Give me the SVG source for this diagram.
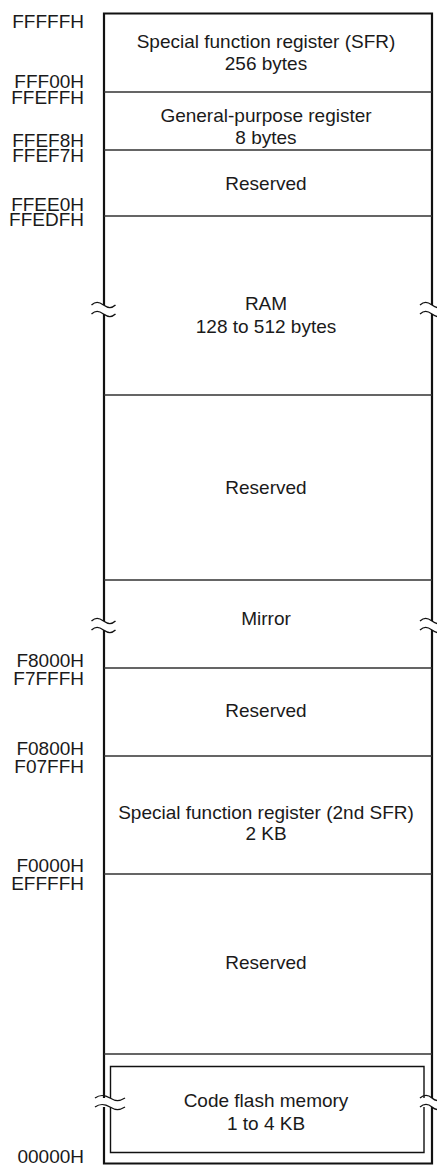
<svg xmlns="http://www.w3.org/2000/svg" width="437" height="1166" viewBox="0 0 437 1166">
<style>
text{font-family:"Liberation Sans",Arial,sans-serif;font-size:19px;fill:#1a1a1a}
.c{text-anchor:middle}
.a{text-anchor:end}
.b{fill:none;stroke:#111;stroke-width:2.2}
.h{fill:none;stroke:#333;stroke-width:1.4}
.w{fill:none;stroke:#111;stroke-width:1.4}
.k{fill:none;stroke:#111;stroke-width:1.4}
</style>
<defs>
<path id="brk" d="M -12,0 c 4,-3.5 7,-3.5 12,0 s 8,3.5 12,0" class="k"/>
</defs>
<rect width="437" height="1166" fill="#fff"/>
<g id="frame">
<path class="b" d="M104,305 V13.5 H432 V305 M104,314 V621 M432,314 V621 M104,630 V1098 M432,630 V1098 M104,1107 V1163.5 H432 V1107"/>
<path class="w" d="M110.5,1098 V1066.5 H424 V1098 M110.5,1107 V1152.5 H424 V1107"/>
<use href="#brk" x="103.5" y="305"/><use href="#brk" x="103.5" y="314"/>
<use href="#brk" x="432" y="305"/><use href="#brk" x="432" y="314"/>
<use href="#brk" x="103.5" y="621"/><use href="#brk" x="103.5" y="630"/>
<use href="#brk" x="432" y="621"/><use href="#brk" x="432" y="630"/>
<path class="k" d="M 95,1098 c 5,-3.5 9,-3.5 15,0 s 9,3.5 15,0"/>
<path class="k" d="M 95,1107 c 5,-3.5 9,-3.5 15,0 s 9,3.5 15,0"/>
<path class="k" d="M 420,1098 c 4,-3.5 8,-3.5 12,0 s 8,3.5 12,0"/>
<path class="k" d="M 420,1107 c 4,-3.5 8,-3.5 12,0 s 8,3.5 12,0"/>
</g>
<g id="connectors">
<path class="h" d="M104,92 H432 M104,150 H432 M104,216 H432 M104,395 H432 M104,580 H432 M104,668 H432 M104,756 H432 M104,874 H432 M104,1054 H432"/>
</g>
<g id="sfr"><text class="c" x="266" y="48">Special function register (SFR)</text><text class="c" x="266" y="70">256 bytes</text></g>
<g id="gpr"><text class="c" x="266" y="122">General-purpose register</text><text class="c" x="266" y="143.5">8 bytes</text></g>
<g id="reserved1"><text class="c" x="266" y="190">Reserved</text></g>
<g id="ram"><text class="c" x="266" y="309.5">RAM</text><text class="c" x="266" y="333">128 to 512 bytes</text></g>
<g id="reserved2"><text class="c" x="266" y="494">Reserved</text></g>
<g id="mirror"><text class="c" x="266" y="625">Mirror</text></g>
<g id="reserved3"><text class="c" x="266" y="716.5">Reserved</text></g>
<g id="sfr2"><text class="c" x="266" y="818.5">Special function register (2nd SFR)</text><text class="c" x="266" y="840">2 KB</text></g>
<g id="reserved4"><text class="c" x="266" y="969">Reserved</text></g>
<g id="flash"><text class="c" x="266" y="1107">Code flash memory</text><text class="c" x="266" y="1130">1 to 4 KB</text></g>
<g id="addresses">
<text class="a" x="84" y="27.5">FFFFFH</text>
<text class="a" x="84" y="88">FFF00H</text>
<text class="a" x="84" y="104">FFEFFH</text>
<text class="a" x="84" y="146.5">FFEF8H</text>
<text class="a" x="84" y="162">FFEF7H</text>
<text class="a" x="84" y="211">FFEE0H</text>
<text class="a" x="84" y="226">FFEDFH</text>
<text class="a" x="84" y="666.5">F8000H</text>
<text class="a" x="84" y="685">F7FFFH</text>
<text class="a" x="84" y="755">F0800H</text>
<text class="a" x="84" y="773">F07FFH</text>
<text class="a" x="84" y="872">F0000H</text>
<text class="a" x="84" y="890">EFFFFH</text>
<text class="a" x="84" y="1163">00000H</text>
</g>
</svg>
